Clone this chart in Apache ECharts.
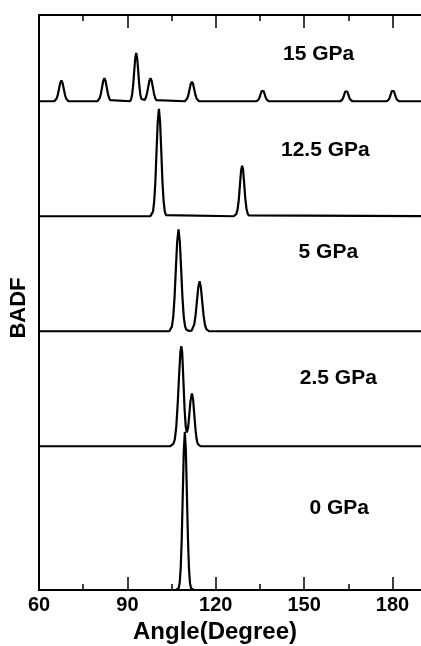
<!DOCTYPE html>
<html>
<head>
<meta charset="utf-8">
<script src="https://cdn.jsdelivr.net/npm/echarts@6/dist/echarts.min.js"></script>
<style>
html,body{margin:0;padding:0;background:#fff;}
#chart{width:421px;height:646px;}
</style>
</head>
<body>
<div id="chart"></div>
<script>
// Pressure labels (bottom to top)
const pressures = ['0 GPa', '2.5 GPa', '5 GPa', '12.5 GPa', '15 GPa'];
// Vertical offset of each curve's baseline
const offsets = [0, 1.25, 2.25, 3.25, 4.25];
// X tick labels
const xTicks = [60, 90, 120, 150, 180];

// [angle, BADF]
const gpa0 = [
  [60, 0], [106.5, 0], [107.05, 0.003], [107.4, 0.015], [107.75, 0.06], [108.1, 0.19],
  [108.45, 0.45], [108.8, 0.83], [109.15, 1.21], [109.5, 1.375], [109.85, 1.21],
  [110.2, 0.83], [110.55, 0.45], [110.9, 0.19], [111.25, 0.06], [111.6, 0.015],
  [111.95, 0.003], [112.5, 0], [200, 0]
];
const gpa2_5 = [
  [60, 0], [104.5, 0], [105.0, 0.003], [105.6, 0.02], [106.1, 0.06], [106.6, 0.17],
  [107.1, 0.38], [107.6, 0.64], [108.0, 0.82], [108.3, 0.87], [108.6, 0.82],
  [109.0, 0.58], [109.4, 0.33], [109.8, 0.17], [110.2, 0.12], [110.6, 0.16],
  [111.0, 0.27], [111.4, 0.39], [111.9, 0.46], [112.3, 0.41], [112.7, 0.28],
  [113.1, 0.15], [113.5, 0.06], [113.9, 0.02], [114.3, 0.005], [114.8, 0], [200, 0]
];
const gpa5 = [
  [60, 0], [104.2, 0], [104.6, 0.01], [105.1, 0.04], [105.55, 0.12], [106.0, 0.29],
  [106.45, 0.54], [106.9, 0.78], [107.35, 0.885], [107.8, 0.78], [108.25, 0.54],
  [108.7, 0.29], [109.15, 0.12], [109.6, 0.04], [110.0, 0.015], [110.9, 0.003],
  [111.8, 0.005], [112.3, 0.02], [112.7, 0.06], [113.15, 0.14], [113.6, 0.26],
  [114.05, 0.38], [114.5, 0.435], [114.95, 0.38], [115.4, 0.26], [115.85, 0.14],
  [116.3, 0.06], [116.75, 0.02], [117.2, 0.005], [117.7, 0], [200, 0]
];
const gpa12_5 = [
  [60, 0], [97.8, 0], [98.3, 0.01], [98.7, 0.04], [99.1, 0.13], [99.5, 0.30],
  [99.9, 0.57], [100.3, 0.82], [100.7, 0.935], [101.1, 0.82], [101.5, 0.57],
  [101.9, 0.30], [102.3, 0.13], [102.7, 0.04], [103.1, 0.01], [103.6, 0],
  [126.1, 0], [126.6, 0.005], [127.0, 0.02], [127.4, 0.06], [127.8, 0.14],
  [128.2, 0.27], [128.6, 0.40], [128.95, 0.44], [129.25, 0.41], [129.6, 0.30],
  [130.0, 0.16], [130.4, 0.07], [130.8, 0.025], [131.2, 0.007], [131.7, 0], [200, 0]
];
const gpa15 = [
  [60, 0], [65.2, 0], [65.6, 0.008], [66.0, 0.024], [66.4, 0.058], [66.8, 0.109],
  [67.2, 0.159], [67.6, 0.18], [68.0, 0.159], [68.4, 0.109], [68.8, 0.058],
  [69.2, 0.024], [69.6, 0.008], [70.0, 0],
  [79.8, 0], [80.2, 0.009], [80.6, 0.027], [81.0, 0.065], [81.4, 0.121], [81.8, 0.176],
  [82.2, 0.20], [82.6, 0.176], [83.0, 0.121], [83.4, 0.065], [83.8, 0.027],
  [84.2, 0.009], [84.6, 0],
  [90.9, 0], [91.25, 0.018], [91.6, 0.057], [91.95, 0.137], [92.3, 0.255], [92.65, 0.37],
  [93.0, 0.42], [93.35, 0.37], [93.7, 0.255], [94.05, 0.137], [94.4, 0.057],
  [94.75, 0.02], [95.3, 0.01], [95.85, 0.012], [96.25, 0.03], [96.65, 0.068],
  [97.05, 0.121], [97.45, 0.176], [97.85, 0.20], [98.25, 0.176], [98.65, 0.121],
  [99.05, 0.065], [99.45, 0.027], [99.85, 0.009], [100.3, 0],
  [109.5, 0], [109.9, 0.007], [110.3, 0.023], [110.7, 0.055], [111.1, 0.103],
  [111.5, 0.150], [111.9, 0.17], [112.3, 0.150], [112.7, 0.103], [113.1, 0.055],
  [113.5, 0.023], [113.9, 0.007], [114.3, 0],
  [133.8, 0], [134.15, 0.004], [134.5, 0.014], [134.85, 0.033], [135.2, 0.061],
  [135.55, 0.088], [135.9, 0.10], [136.25, 0.088], [136.6, 0.061], [136.95, 0.033],
  [137.3, 0.014], [137.65, 0.004], [138.0, 0],
  [162.2, 0], [162.55, 0.004], [162.9, 0.013], [163.25, 0.031], [163.6, 0.058],
  [163.95, 0.085], [164.3, 0.096], [164.65, 0.085], [165.0, 0.058], [165.35, 0.031],
  [165.7, 0.013], [166.05, 0.004], [166.4, 0],
  [178.0, 0], [178.35, 0.004], [178.7, 0.014], [179.05, 0.033], [179.4, 0.061],
  [179.75, 0.088], [180.1, 0.10], [180.45, 0.088], [180.8, 0.061], [181.15, 0.033],
  [181.5, 0.014], [181.85, 0.004], [182.2, 0], [200, 0]
];
const curves = [gpa0, gpa2_5, gpa5, gpa12_5, gpa15];

// Label anchor points in data coordinates [angle, level]
const labelAnchors = [[161.9, 0.713], [161.6, 1.843], [158.2, 2.935], [157.2, 3.826], [154.9, 4.661]];

const FONT = '"Liberation Sans", Arial, Helvetica, sans-serif';
const chart = echarts.init(document.getElementById('chart'), null, {renderer: 'canvas'});

function xAxisDef(position, major) {
  return {
    type: 'value', min: 60, max: 190, interval: major ? 30 : 15, position: position,
    axisLine: {show: major, lineStyle: {color: '#000', width: 2}},
    axisTick: {show: true, inside: true, length: major ? 13 : 6, lineStyle: {color: '#000', width: 1.5}},
    axisLabel: (major && position === 'bottom') ? {
      show: true, margin: 5, color: '#000', fontFamily: FONT, fontWeight: 'bold', fontSize: 20,
      formatter: v => xTicks.indexOf(v) >= 0 ? String(v) : ''
    } : {show: false},
    splitLine: {show: false}
  };
}

const series = curves.map((c, i) => ({
  type: 'line', xAxisIndex: 0,
  data: c.map(([a, v]) => [a, v + offsets[i]]),
  showSymbol: false, symbol: 'none', smooth: false,
  lineStyle: {color: '#000', width: 2.2},
  silent: true, z: 3
}));
series.push({
  type: 'scatter', xAxisIndex: 0,
  data: labelAnchors.map((p, i) => ({value: p, name: pressures[i]})),
  symbolSize: 0, silent: true, z: 5,
  itemStyle: {opacity: 1, color: '#000'},
  label: {show: true, position: 'inside', formatter: '{b}', color: '#000', opacity: 1,
    textBorderWidth: 0, fontFamily: FONT, fontWeight: 'bold', fontSize: 21}
});

chart.setOption({
  animation: false,
  backgroundColor: '#fff',
  grid: {left: 39, top: 15, width: 383, height: 575, containLabel: false, outerBoundsMode: 'none'},
  xAxis: [
    xAxisDef('bottom', true),
    xAxisDef('bottom', false),
    xAxisDef('top', true),
    xAxisDef('top', false)
  ],
  yAxis: {
    type: 'value', min: 0, max: 5,
    axisLine: {show: true, lineStyle: {color: '#000', width: 2}},
    axisTick: {show: false}, axisLabel: {show: false}, splitLine: {show: false}
  },
  graphic: [
    {type: 'text', x: 215, y: 632, silent: true,
      style: {text: 'Angle(Degree)', fill: '#000', font: 'bold 24px ' + FONT, textAlign: 'center', textVerticalAlign: 'middle'}},
    {type: 'text', x: 19, y: 308, rotation: Math.PI / 2, silent: true,
      style: {text: 'BADF', fill: '#000', font: 'bold 22px ' + FONT, textAlign: 'center', textVerticalAlign: 'middle'}}
  ],
  series: series
});
</script>
</body>
</html>
